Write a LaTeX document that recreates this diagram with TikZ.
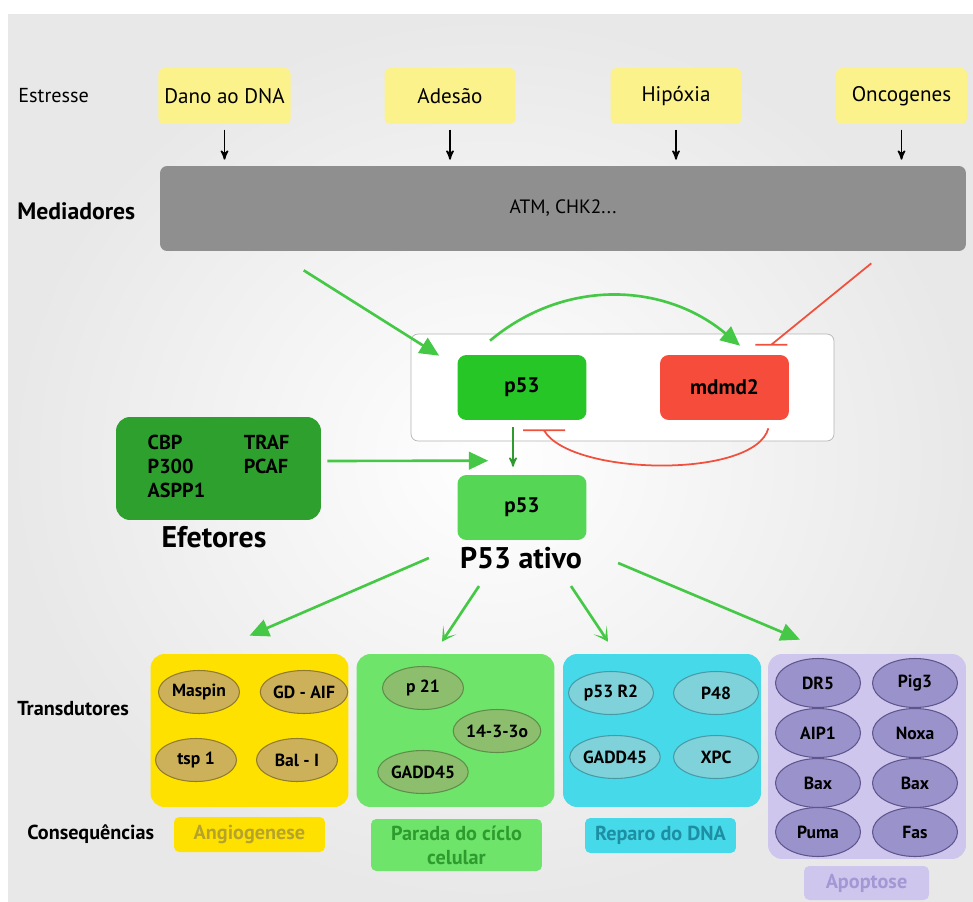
\documentclass[tikz,border=0pt]{standalone}
\usepackage{fontspec}
\setmainfont{PT Sans}
\usepackage{xcolor}
\usepackage{tikz}
\usetikzlibrary{shapes}
\usetikzlibrary{arrows}
\usetikzlibrary{arrows.meta}

\definecolor{bggray}{HTML}{E8E8E8}
\definecolor{stressyellow}{HTML}{FCF28C}
\definecolor{medgray}{HTML}{8F8F8F}
\definecolor{framegray}{HTML}{B4B4B4}
\definecolor{p53green}{HTML}{27C627}
\definecolor{mdmred}{HTML}{F54C3C}
\definecolor{effgreen}{HTML}{2EA02E}
\definecolor{actgreen}{HTML}{55D655}
\definecolor{arrowgreen}{HTML}{45C845}
\definecolor{darkgreen}{HTML}{2F9A2F}
\definecolor{inhibred}{HTML}{F0503C}
\definecolor{angioyellow}{HTML}{FFE100}
\definecolor{angioell}{HTML}{CDB15A}
\definecolor{angioline}{HTML}{8F7A2E}
\definecolor{angiotext}{HTML}{B5A32C}
\definecolor{ciclogreen}{HTML}{6EE46A}
\definecolor{cicloell}{HTML}{8DBE6D}
\definecolor{cicloline}{HTML}{5E8E4A}
\definecolor{ciclotext}{HTML}{2E9B2E}
\definecolor{reparocyan}{HTML}{45D9E9}
\definecolor{reparoell}{HTML}{7FD2DA}
\definecolor{reparoline}{HTML}{4A9AA5}
\definecolor{reparotext}{HTML}{1E8EA3}
\definecolor{apoplila}{HTML}{CFC6EE}
\definecolor{apopell}{HTML}{9A92CB}
\definecolor{apopline}{HTML}{5D558C}
\definecolor{apoptext}{HTML}{A398D4}

\tikzset{
	stress node/.style={rectangle,fill=stressyellow,rounded corners=3pt,minimum width=2.62cm,minimum height=1.12cm,font=\fontsize{12}{14}\selectfont},
	row label/.style={anchor=west,inner sep=0pt,font=\bfseries\fontsize{11.5}{13}\selectfont},
	prot node/.style={rectangle,rounded corners=5pt,minimum width=2.58cm,minimum height=1.3cm,font=\bfseries\fontsize{12}{14}\selectfont},
	group box/.style={rectangle,rounded corners=8pt,minimum width=3.96cm,minimum height=3.06cm},
	gene/.style={ellipse,draw,line width=0.6pt,minimum width=1.62cm,minimum height=0.86cm,inner sep=0pt,font=\bfseries\fontsize{10}{12}\selectfont},
	result/.style={rectangle,rounded corners=3pt,minimum height=0.7cm,font=\bfseries\fontsize{11.5}{13.6}\selectfont},
	big label/.style={font=\bfseries\fontsize{17}{19}\selectfont},
	act/.style={-{Triangle[length=11pt,width=10pt]},draw=arrowgreen,line width=1.5pt},
	inhib/.style={-,draw=inhibred,line width=1pt}
}

\begin{document}
\begin{tikzpicture}[>=stealth',x=0.02cm,y=-0.02cm]
	\useasboundingbox (0,0) rectangle (973,902);
	\shade[inner color=white,outer color=bggray] (8,15) rectangle (973,902);

	% estresse e mediadores
	\node[row label,font=\fontsize{11.5}{13}\selectfont] (estresse) at (18,96) {Estresse};
	\node[stress node] (dano) at (224.5,96) {Dano ao DNA};
	\node[stress node] (adesao) at (450,96) {Adesão};
	\node[stress node] (hipoxia) at (676,96) {Hipóxia};
	\node[stress node] (onco) at (901.5,96) {Oncogenes};

	\node[rectangle,fill=medgray,rounded corners=4pt,minimum width=16.12cm,minimum height=1.7cm,font=\fontsize{11}{13}\selectfont] (med) at (563,208.5) {ATM, CHK2...};
	\node[row label,font=\bfseries\fontsize{13.5}{15}\selectfont] (mediadores) at (17,211) {Mediadores};

	\foreach \s in {dano,adesao,hipoxia,onco}
		\draw[->,line width=0.9pt,shorten <=3pt,shorten >=3.4pt] (\s) -- (\s |- med.north);

	% p53 e mdm2
	\node[rectangle,draw=framegray,fill=white,rounded corners=4pt,minimum width=8.46cm,minimum height=2.14cm] (frame) at (622.5,387.5) {};
	\node[prot node,fill=p53green] (p53) at (522,387.5) {p53};
	\node[prot node,fill=mdmred] (mdm) at (724.5,387.5) {mdmd2};

	\draw[act] ([xshift=2.88cm,yshift=-0.38cm]med.south west) -- ([xshift=-0.36cm,yshift=-0.02cm]p53.north west);
	\draw[inhib] ([xshift=-1.9cm,yshift=-0.24cm]med.south east) -- ([xshift=-0.36cm,yshift=0.2cm]mdm.north east) ++(-16,0) -- ++(32,0);
	\draw[act] ([xshift=-0.64cm,yshift=0.28cm]p53.north) to[out=40,in=140] ([xshift=0.31cm,yshift=0.18cm]mdm.north);
	\draw[inhib] ([xshift=-0.42cm,yshift=-0.16cm]mdm.south east) to[out=-105,in=-60,looseness=0.6] ([xshift=0.44cm,yshift=-0.2cm]p53.south) ++(-21,0) -- ++(42,0);

	% efetores
	\node[rectangle,fill=effgreen,rounded corners=8pt,minimum width=4.1cm,minimum height=2.06cm,font=\bfseries\fontsize{11.5}{13.6}\selectfont] (eff) at (218.5,468.5)
		{\begin{tabular}{@{}l@{\hspace{22pt}}l@{}}CBP & TRAF\\ P300 & PCAF\\ ASPP1 & \end{tabular}};
	\node[big label] (efetores) at (214,537) {Efetores};

	\node[prot node,fill=actgreen] (act) at (522,507.5) {p53};
	\node[big label] (ativo) at (521,558) {P53 ativo};

	\draw[->,draw=darkgreen,line width=0.9pt,shorten <=4pt,shorten >=4.5pt] ([xshift=-0.18cm]p53.south) -- ([xshift=-0.18cm]act.north);
	\draw[act,shorten <=3.4pt] ([yshift=0.15cm]eff.east) -- ([xshift=0.62cm,yshift=0.28cm]act.north west);

	% transdutores
	\node[row label] (transdutores) at (17,709) {Transdutores};
	\node[group box,fill=angioyellow] (angio) at (249.5,730.5) {};
	\node[group box,fill=ciclogreen] (ciclo) at (455.5,730.5) {};
	\node[group box,fill=reparocyan] (reparo) at (662,730.5) {};
	\node[group box,fill=apoplila,minimum height=4.1cm] (apop) at (867,756.5) {};

	\node[gene,fill=angioell,draw=angioline] (maspin) at (199,692) {Maspin};
	\node[gene,fill=angioell,draw=angioline] (gdaif) at (304,692) {GD - AIF};
	\node[gene,fill=angioell,draw=angioline] (tsp) at (196,760) {tsp 1};
	\node[gene,fill=angioell,draw=angioline] (bai) at (297,760) {Bal - I};

	\node[gene,fill=cicloell,draw=cicloline] (p21) at (423,688) {p 21};
	\node[gene,fill=cicloell,draw=cicloline] (sigma) at (497,731) {14-3-3o};
	\node[gene,fill=cicloell,draw=cicloline] (gadd) at (423,772) {GADD45};

	\node[gene,fill=reparoell,draw=reparoline,minimum width=1.7cm] (r2) at (611,693) {p53 R2};
	\node[gene,fill=reparoell,draw=reparoline,minimum width=1.7cm] (p48) at (716,693) {P48};
	\node[gene,fill=reparoell,draw=reparoline,minimum width=1.7cm] (gaddr) at (615,757) {GADD45};
	\node[gene,fill=reparoell,draw=reparoline,minimum width=1.7cm] (xpc) at (716,757) {XPC};

	\foreach \n/\y/\a/\b in {1/683/DR5/Pig3,2/733/AIP1/Noxa,3/783/Bax/Bax,4/832/Puma/Fas} {
		\node[gene,fill=apopell,draw=apopline,minimum width=1.7cm,minimum height=0.98cm] (apl\n) at (818,\y) {\a};
		\node[gene,fill=apopell,draw=apopline,minimum width=1.7cm,minimum height=0.98cm] (apr\n) at (915,\y) {\b};
	}

	\draw[act] ([xshift=-0.5cm]ativo.west) -- ([yshift=0.36cm]angio.north);
	\draw[act,-{Stealth[length=8pt,width=9pt,inset=5pt]}] ([xshift=-0.84cm,yshift=-0.22cm]ativo.south) -- ([xshift=-0.27cm,yshift=0.24cm]ciclo.north);
	\draw[act,-{Stealth[length=8pt,width=9pt,inset=5pt]}] ([xshift=1.0cm,yshift=-0.22cm]ativo.south) -- ([xshift=-1.08cm,yshift=0.24cm]reparo.north);
	\draw[act] ([xshift=0.6cm,yshift=-0.1cm]ativo.east) -- ([xshift=-1.34cm,yshift=0.28cm]apop.north);

	% consequencias
	\node[row label] (consequencias) at (27,834) {Consequências};
	\node[result,fill=angioyellow,text=angiotext,minimum width=3.02cm] (angiores) at (249.5,834.5) {Angiogenese};
	\node[result,fill=ciclogreen,text=ciclotext,minimum width=3.42cm,minimum height=1.04cm,align=center] (ciclores) at (456.5,845) {Parada do cíclo\\celular};
	\node[result,fill=reparocyan,text=reparotext,minimum width=3.02cm] (reparores) at (660.5,835.5) {Reparo do DNA};
	\node[result,fill=apoplila,text=apoptext,minimum width=2.5cm,minimum height=0.68cm] (apopres) at (866.5,883) {Apoptose};
\end{tikzpicture}
\end{document}
